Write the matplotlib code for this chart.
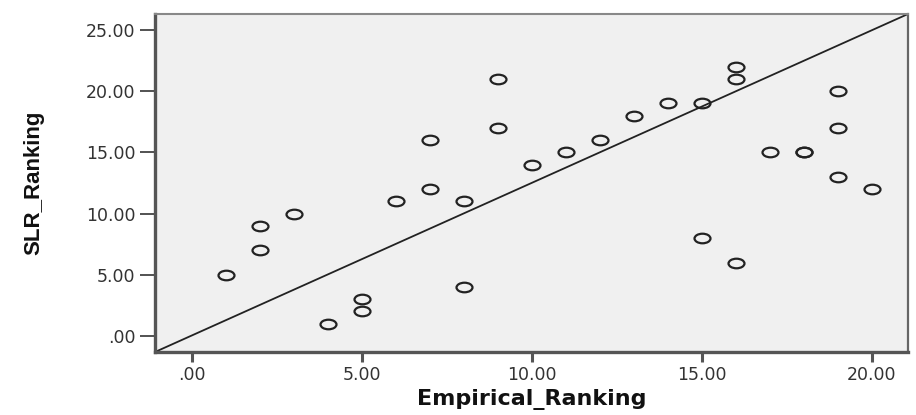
import matplotlib
matplotlib.use("Agg")
import matplotlib.pyplot as plt
from matplotlib.path import Path
from matplotlib.transforms import Affine2D

# Data
empirical_ranking = [1, 2, 2, 3, 4, 5, 5, 6, 7, 7, 8, 8, 9, 9, 10, 11, 12, 13, 14,
                     15, 15, 16, 16, 16, 17, 18, 18, 19, 19, 19, 20]
slr_ranking = [5, 9, 7, 10, 1, 3, 2, 11, 16, 12, 11, 4, 21, 17, 14, 15, 16, 18, 19,
               19, 8, 22, 21, 6, 15, 15, 15, 20, 17, 13, 12]
x_ticks = [0, 5, 10, 15, 20]
y_ticks = [0, 5, 10, 15, 20, 25]
x_tick_labels = [".00", "5.00", "10.00", "15.00", "20.00"]
y_tick_labels = [".00", "5.00", "10.00", "15.00", "20.00", "25.00"]

fig = plt.figure(figsize=(9.16, 4.15), dpi=100)
ax = fig.add_axes([155/916, 1-352/415, (908-155)/916, (352-14)/415])
ax.set_facecolor("#f0f0f0")

ellipse = Path.unit_circle().transformed(Affine2D().scale(1.0, 0.6))
ax.plot(empirical_ranking, slr_ranking, linestyle="none", marker=ellipse,
        ms=11.5, mfc="none", mec="#222222", mew=1.6, zorder=3)

# diagonal reference line corner to corner
ax.plot([0, 1], [0, 1], transform=ax.transAxes, color="#222222", lw=1.3, zorder=2)

ax.set_xlim(-1.09, 21.06)
ax.set_ylim(-1.31, 26.3)
ax.set_xticks(x_ticks)
ax.set_xticklabels(x_tick_labels)
ax.set_yticks(y_ticks)
ax.set_yticklabels(y_tick_labels)

for lab in ax.get_xticklabels() + ax.get_yticklabels():
    lab.set_family("DejaVu Sans")
    lab.set_fontsize(12.5)
    lab.set_color("#333333")

ax.tick_params(axis="x", direction="out", length=7, width=2.2, color="#555555", pad=3)
ax.tick_params(axis="y", direction="out", length=11, width=1.3, color="#444444", pad=3)

ax.spines["left"].set_linewidth(2.4)
ax.spines["left"].set_color("#555555")
ax.spines["bottom"].set_linewidth(2.4)
ax.spines["bottom"].set_color("#555555")
ax.spines["top"].set_linewidth(1.5)
ax.spines["top"].set_color("#888888")
ax.spines["right"].set_linewidth(1.6)
ax.spines["right"].set_color("#666666")

ax.set_xlabel("Empirical_Ranking", family="DejaVu Sans", fontweight="bold",
              fontsize=16, color="#111111", labelpad=4)
ax.set_ylabel("SLR_Ranking", family="Liberation Sans",
              fontweight="bold", fontsize=16, color="#111111", labelpad=30)

fig.savefig("out.png", dpi=100)
